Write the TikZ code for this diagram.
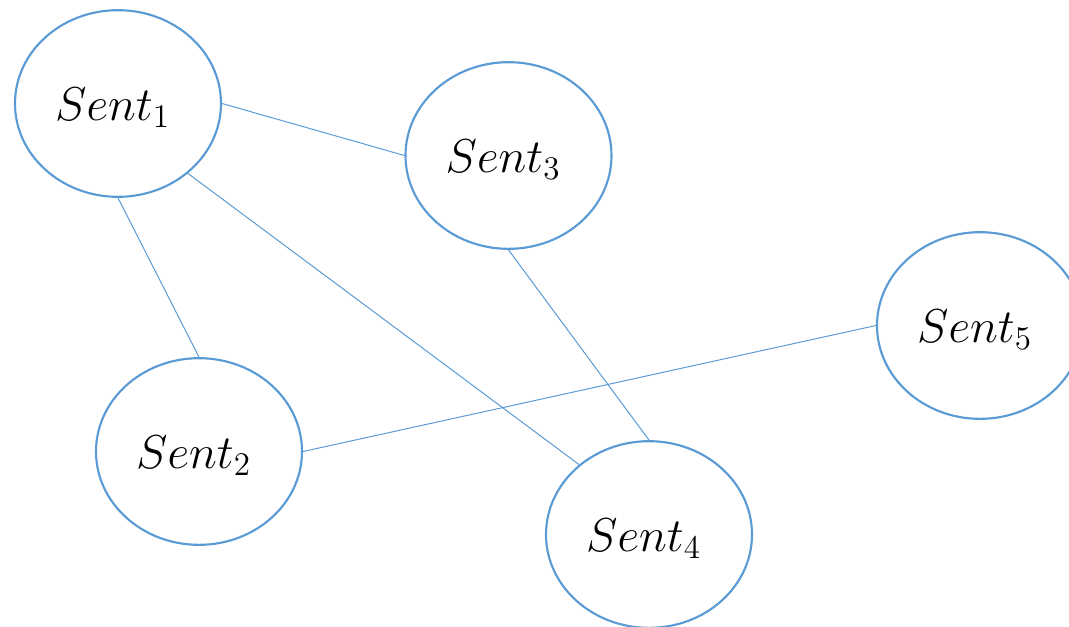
\documentclass[tikz,border=0pt]{standalone}
\usepackage{graphicx}
\usepackage{amsmath}
\usetikzlibrary{shapes.geometric}

\definecolor{sentblue}{RGB}{91,155,213}
\newcommand{\sentlabel}[1]{\raisebox{0pt}[\dimexpr\height+6pt][\depth]{\scalebox{1.72}{\huge$Sent_{#1}$}}\hspace*{8pt}}
\tikzset{
  sent/.style={ellipse, draw=sentblue, line width=1.6pt, fill=white,
    minimum width=154.5pt, minimum height=140pt, inner sep=0pt},
  link/.style={draw=sentblue, line width=0.75pt}
}

\begin{document}
\begin{tikzpicture}[x=0.75pt,y=-0.75pt]
\useasboundingbox (0,0) rectangle (1069,626);
% the five sentences
\node[sent] (s1) at (118,103.5) {\sentlabel{1}};
\node[sent] (s2) at (199,451.5) {\sentlabel{2}};
\node[sent] (s3) at (508.5,155.5) {\sentlabel{3}};
\node[sent] (s4) at (649,534.5) {\sentlabel{4}};
\node[sent] (s5) at (980,325.5) {\sentlabel{5}};
% edges between them
\draw[link] (s1.east) -- (s3.west);
\draw[link] (s1.south) -- (s2.north);
\draw[link] (s1.-45) -- (s4.135);
\draw[link] (s3.south) -- (s4.north);
\draw[link] (s2.east) -- (s5.west);
\end{tikzpicture}
\end{document}
